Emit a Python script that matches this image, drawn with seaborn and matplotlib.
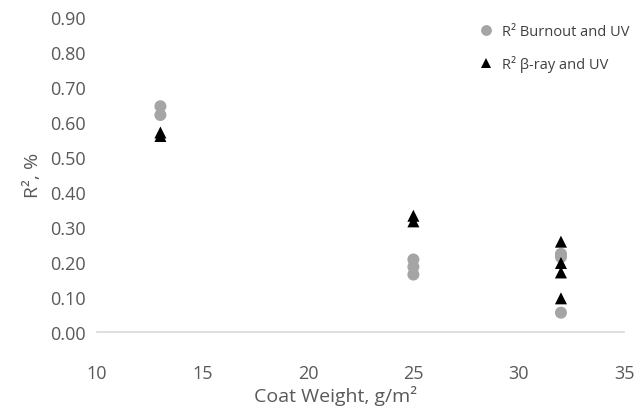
import pandas as pd
import matplotlib.pyplot as plt
import seaborn as sns

# ----------------------------------------------------------
# Data
# ----------------------------------------------------------
burnout_x = [13, 13, 25, 25, 25, 32, 32, 32]
burnout_r2 = [0.645, 0.620, 0.207, 0.186, 0.164, 0.223, 0.214, 0.055]

beta_x = [13, 13, 25, 25, 32, 32, 32, 32]
beta_r2 = [0.570, 0.560, 0.332, 0.316, 0.258, 0.197, 0.170, 0.096]

series_names = ["R² Burnout and UV", "R² β-ray and UV"]

df = pd.concat([
    pd.DataFrame({"x": burnout_x, "r2": burnout_r2, "series": series_names[0]}),
    pd.DataFrame({"x": beta_x, "r2": beta_r2, "series": series_names[1]}),
])

sns.set_style("white")
plt.rcParams["font.family"] = ["Open Sans", "DejaVu Sans"]

fig = plt.figure(figsize=(6.35, 4.1), dpi=100)
ax = fig.add_axes([0.153, 0.188, 0.830, 0.768])

sns.scatterplot(data=df, x="x", y="r2", hue="series", style="series",
                palette={series_names[0]: "#A5A5A5", series_names[1]: "#000000"},
                markers={series_names[0]: "o", series_names[1]: "^"},
                s=75, linewidth=0, ax=ax)

ax.set_xlim(10, 35)
ax.set_ylim(0, 0.9)
ax.set_xticks(range(10, 36, 5))
ax.set_yticks([i / 10 for i in range(10)])
ax.set_yticklabels([f"{i / 10:.2f}" for i in range(10)])

for s in ["top", "right", "left"]:
    ax.spines[s].set_visible(False)
ax.spines["bottom"].set_color("#D9D9D9")
ax.spines["bottom"].set_linewidth(1.2)

ax.tick_params(axis="x", direction="in", length=5, color="#D9D9D9",
               labelsize=13, labelcolor="#595959", pad=23)
ax.tick_params(axis="y", length=0, labelsize=13, labelcolor="#595959", pad=8)

ax.set_xlabel("Coat Weight, g/m²", fontsize=14, color="#595959")
ax.xaxis.set_label_coords(0.452, -0.17)
ax.set_ylabel("R², %", fontsize=14, color="#595959", labelpad=6)

leg = ax.legend(loc="upper right", frameon=False, fontsize=10.5,
                handletextpad=0.1, labelspacing=1.1, borderaxespad=0.0,
                markerscale=0.9, bbox_to_anchor=(1.022, 0.995))
for t in leg.get_texts():
    t.set_color("#404040")

fig.savefig("out.png", dpi=100)
